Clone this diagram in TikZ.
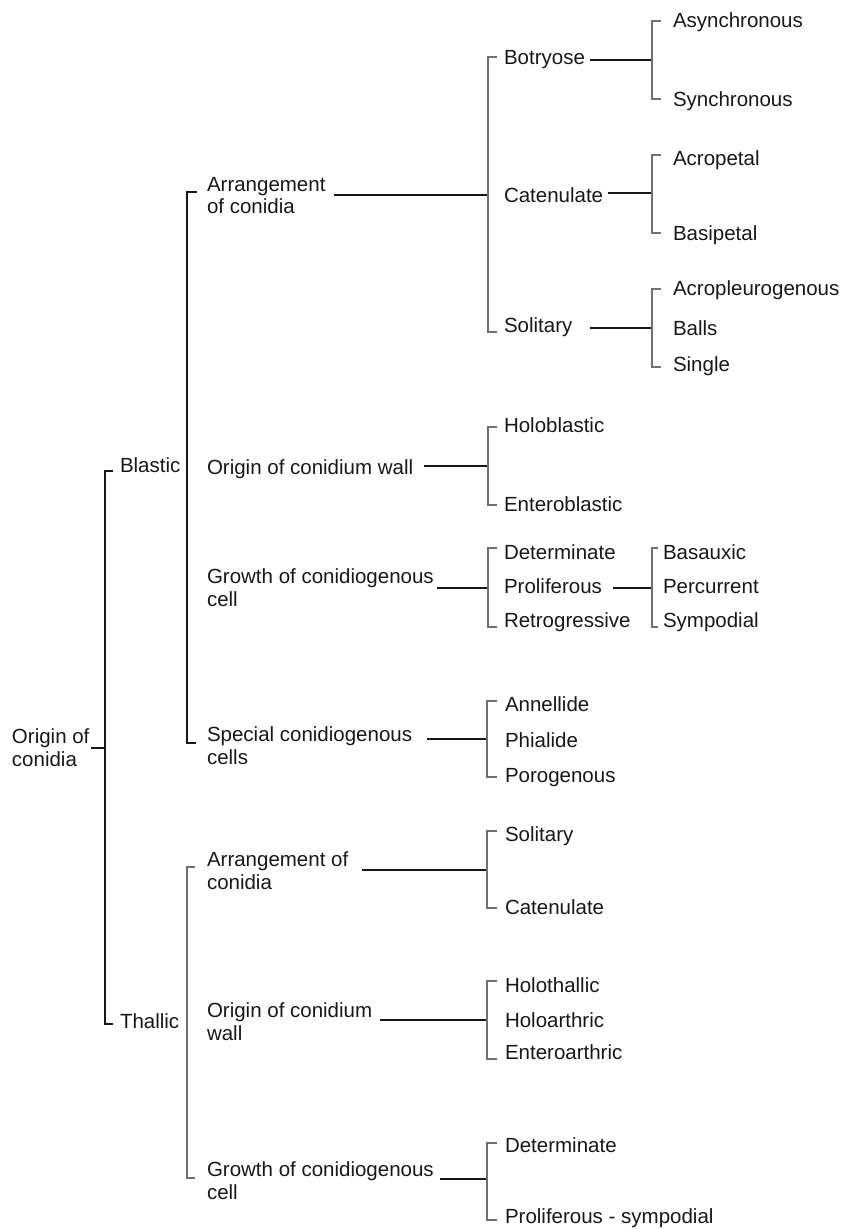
\documentclass[tikz,border=0pt]{standalone}
\usepackage{fontspec}
\setmainfont{Liberation Sans}
\usetikzlibrary{calc}
\definecolor{ink}{HTML}{1A1718}
\definecolor{thin}{HTML}{707070}
\begin{document}
\begin{tikzpicture}[x=1pt,y=-1pt,
  lbl/.style={anchor=north west, inner sep=0pt, outer sep=0pt, text=ink,
    font=\fontsize{20.5}{22.7}\selectfont, align=left},
  conn/.style={draw=ink, line width=1.9pt},
  heavyconn/.style={draw=ink, line width=2.6pt},
  brk/.style={draw=thin, line width=1.2pt},
  mainbrk/.style={draw=ink, line width=2.4pt}]
\useasboundingbox (0,0) rectangle (843,1229);

% ---- nodes ----
\node[lbl] (root) at (12,729) {Origin of\\conidia};
\node[lbl] (bl) at (120,458) {Blastic};
\node[lbl] (th) at (120,1014) {Thallic};

\node[lbl] (b1) at (207,177) {Arrangement\\of conidia};
\node[lbl] (b2) at (207,460) {Origin of conidium wall};
\node[lbl] (b3) at (207,569) {Growth of conidiogenous\\cell};
\node[lbl] (b4) at (207,727) {Special conidiogenous\\cells};
\node[lbl] (t1) at (207,852) {Arrangement of\\conidia};
\node[lbl] (t2) at (207,1003) {Origin of conidium\\wall};
\node[lbl] (t3) at (207,1162) {Growth of conidiogenous\\cell};

\node[lbl] (b11) at (504,50) {Botryose};
\node[lbl] (b12) at (504,188) {Catenulate};
\node[lbl] (b13) at (504,318) {Solitary};
\node[lbl] (b111) at (673,13) {Asynchronous};
\node[lbl] (b112) at (673,92) {Synchronous};
\node[lbl] (b121) at (673,151) {Acropetal};
\node[lbl] (b122) at (673,226) {Basipetal};
\node[lbl] (b131) at (673,281) {Acropleurogenous};
\node[lbl] (b132) at (673,321) {Balls};
\node[lbl] (b133) at (673,357) {Single};

\node[lbl] (b21) at (504,418) {Holoblastic};
\node[lbl] (b22) at (504,497) {Enteroblastic};

\node[lbl] (b31) at (504,545) {Determinate};
\node[lbl] (b32) at (504,579) {Proliferous};
\node[lbl] (b33) at (504,613) {Retrogressive};
\node[lbl] (b321) at (663,545) {Basauxic};
\node[lbl] (b322) at (663,579) {Percurrent};
\node[lbl] (b323) at (663,613) {Sympodial};

\node[lbl] (b41) at (505,697) {Annellide};
\node[lbl] (b42) at (505,733) {Phialide};
\node[lbl] (b43) at (505,768) {Porogenous};

\node[lbl] (t11) at (505,827) {Solitary};
\node[lbl] (t12) at (505,900) {Catenulate};
\node[lbl] (t21) at (505,978) {Holothallic};
\node[lbl] (t22) at (505,1013) {Holoarthric};
\node[lbl] (t23) at (505,1045) {Enteroarthric};
\node[lbl] (t31) at (505,1138) {Determinate};
\node[lbl] (t32) at (505,1209) {Proliferous - sympodial};

% ---- junction coordinates ----
\coordinate (jroot) at (105,748);
\coordinate (jb1) at (488,195);
\coordinate (jb11) at (652,60);
\coordinate (jb12) at (652,193);
\coordinate (jb13) at (652,328);
\coordinate (jb2) at (488,466);
\coordinate (jb3) at (488,588);
\coordinate (jb32) at (652,588);
\coordinate (jb4) at (487,739);
\coordinate (jt1) at (487,870);
\coordinate (jt2) at (487,1020);
\coordinate (jt3) at (487,1179);

% ---- root bracket ----
\draw[mainbrk] (113,471) -- (105,471) -- (105,1024) -- (113,1024);
\draw[conn] ([xshift=1.5pt]root.east |- jroot) -- (jroot);

% ---- blastic bracket ----
\draw[mainbrk] (197,192) -- (187,192) -- (187,743) -- (196,743);
% ---- thallic bracket ----
\draw[brk] (195,867) -- (187,867) -- (187,1178) -- (195,1178);

% ---- blastic: arrangement ----
\draw[conn] ([xshift=8pt]b1.east |- jb1) -- (jb1);
\draw[brk] (497,57) -- (488,57) -- (488,332) -- (497,332);

\draw[heavyconn] ([xshift=5pt]b11.east |- jb11) -- (jb11);
\draw[brk] (661,21) -- (652,21) -- (652,99) -- (661,99);
\draw[conn] ([xshift=5pt]b12.east |- jb12) -- (jb12);
\draw[brk] (661,155) -- (652,155) -- (652,233) -- (661,233);
\draw[conn] ([xshift=18pt]b13.east |- jb13) -- (jb13);
\draw[brk] (661,289) -- (652,289) -- (652,367) -- (661,367);

% ---- blastic: origin of wall ----
\draw[heavyconn] ([xshift=11pt]b2.east |- jb2) -- (jb2);
\draw[brk] (497,427) -- (488,427) -- (488,505) -- (497,505);

% ---- blastic: growth ----
\draw[conn] ([xshift=3pt]b3.east |- jb3) -- (jb3);
\draw[brk] (497,548) -- (488,548) -- (488,627) -- (497,627);
\draw[conn] ([xshift=11pt]b32.east |- jb32) -- (jb32);
\draw[brk] (658,548) -- (652,548) -- (652,627) -- (658,627);

% ---- blastic: special cells ----
\draw[conn] ([xshift=15pt]b4.east |- jb4) -- (jb4);
\draw[brk] (497,701) -- (487,701) -- (487,777) -- (497,777);

% ---- thallic ----
\draw[conn] ([xshift=14pt]t1.east |- jt1) -- (jt1);
\draw[brk] (497,831) -- (487,831) -- (487,908) -- (497,908);
\draw[conn] ([xshift=8pt]t2.east |- jt2) -- (jt2);
\draw[brk] (497,981) -- (487,981) -- (487,1059) -- (497,1059);
\draw[conn] ([xshift=6pt]t3.east |- jt3) -- (jt3);
\draw[brk] (497,1143) -- (487,1143) -- (487,1220) -- (497,1220);
\end{tikzpicture}
\end{document}
